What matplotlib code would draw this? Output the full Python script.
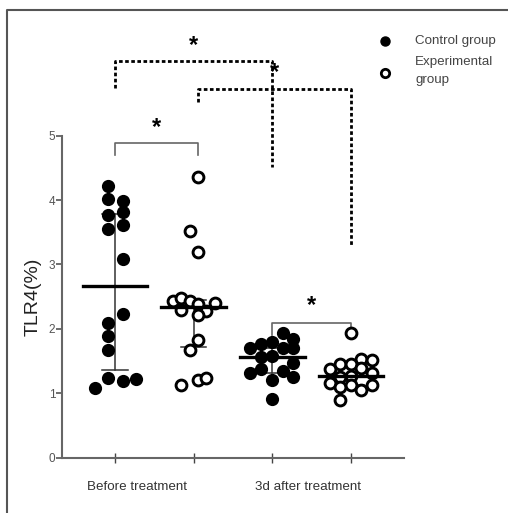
import matplotlib
matplotlib.use("Agg")
import matplotlib.pyplot as plt
from matplotlib.lines import Line2D

plt.rcParams['font.family'] = ['Liberation Sans', 'DejaVu Sans']

# values (TLR4 %), with x offset inside each group
ctrl_before = [4.22, 4.01, 3.99, 3.77, 3.81, 3.55, 3.62, 3.08, 2.23, 2.09, 1.89, 1.68, 1.24, 1.19, 1.22, 1.09]
ctrl_before_dx = [-0.09, -0.09, 0.10, -0.09, 0.10, -0.09, 0.10, 0.10, 0.10, -0.09, -0.09, -0.09, -0.09, 0.10, 0.27, -0.26]

exp_before = [4.36, 3.52, 3.20, 2.43, 2.48, 2.43, 2.38, 2.40, 2.29, 2.28, 2.21, 1.82, 1.68, 1.13, 1.21, 1.23]
exp_before_dx = [0.05, -0.05, 0.05, -0.27, -0.16, -0.05, 0.05, 0.27, -0.16, 0.16, 0.05, 0.05, -0.05, -0.16, 0.05, 0.16]

ctrl_after = [1.93, 1.85, 1.70, 1.77, 1.79, 1.70, 1.70, 1.57, 1.58, 1.47, 1.32, 1.37, 1.34, 1.25, 1.21, 0.91]
ctrl_after_dx = [0.13, 0.26, -0.28, -0.15, 0.0, 0.13, 0.26, -0.15, 0.0, 0.26, -0.28, -0.15, 0.13, 0.26, 0.0, 0.0]

exp_after = [1.93, 1.54, 1.52, 1.37, 1.45, 1.45, 1.39, 1.31, 1.25, 1.27, 1.16, 1.10, 1.13, 1.05, 1.13, 0.90]
exp_after_dx = [0.0, 0.13, 0.26, -0.27, -0.14, 0.0, 0.13, 0.26, -0.14, 0.0, -0.27, -0.14, 0.0, 0.13, 0.26, -0.14]

# median and interquartile range per group
medians = [2.66, 2.34, 1.57, 1.27]
q1 = [1.36, 1.72, 1.32, 1.13]
q3 = [3.79, 2.45, 1.70, 1.45]

group_labels = ['Before treatment', '3d after treatment']
legend_labels = ['Control group', 'Experimental\ngroup']

fig = plt.figure(figsize=(5.08, 5.13), dpi=100)
ax = fig.add_axes([0.1226, 0.1078, 0.6726, 0.6277])

groups = [(ctrl_before, ctrl_before_dx, True), (exp_before, exp_before_dx, False),
          (ctrl_after, ctrl_after_dx, True), (exp_after, exp_after_dx, False)]

for i, (vals, dx, filled) in enumerate(groups):
    xpos = [i + 1 + d for d in dx]
    if filled:
        ax.plot(xpos, vals, 'o', ms=8.3, mfc='black', mec='black', mew=1.2, zorder=3)
    else:
        ax.plot(xpos, vals, 'o', ms=7.8, mfc='white', mec='black', mew=2.1, zorder=3)

for i in range(4):
    x = i + 1
    ax.plot([x - 0.41, x + 0.41], [medians[i], medians[i]], color='black', lw=2.4, zorder=4)
    ax.plot([x, x], [q1[i], q3[i]], color='#333333', lw=1.1, zorder=2)
    ax.plot([x - 0.16, x + 0.16], [q1[i], q1[i]], color='#333333', lw=1.1, zorder=2)
    ax.plot([x - 0.16, x + 0.16], [q3[i], q3[i]], color='#333333', lw=1.1, zorder=2)

ax.set_xlim(0.33, 4.67)
ax.set_ylim(0, 5)
ax.set_yticks([0, 1, 2, 3, 4, 5])
ax.set_xticks([1, 2, 3, 4])
ax.set_xticklabels([])
for s in ['top', 'right']:
    ax.spines[s].set_visible(False)
for s in ['left', 'bottom']:
    ax.spines[s].set_color('#666666')
    ax.spines[s].set_linewidth(1.5)
ax.tick_params(axis='y', colors='#555555', labelsize=8.5, length=4, width=1.2, pad=1)
ax.tick_params(axis='x', colors='#444444', direction='inout', length=7, width=1)
ax.set_ylabel('TLR4(%)', fontsize=14, color='#222222', labelpad=5)

ax.text(1.28, -0.45, group_labels[0], ha='center', va='center', fontsize=9.6, color='#333333')
ax.text(3.45, -0.45, group_labels[1], ha='center', va='center', fontsize=9.6, color='#333333')

# significance brackets
ax.plot([1.0, 1.0, 2.05, 2.05], [4.70, 4.88, 4.88, 4.70], color='#666666', lw=1.2, clip_on=False)
ax.plot([3.0, 3.0, 4.0, 4.0], [1.90, 2.09, 2.09, 1.90], color='#666666', lw=1.2, clip_on=False)
dot = (0, (1.3, 0.9))
ax.plot([1.0, 1.0, 3.0, 3.0], [5.74, 6.16, 6.16, 4.52], color='black', lw=2, ls=dot, clip_on=False)
ax.plot([2.05, 2.05, 4.0, 4.0], [5.53, 5.73, 5.73, 3.30], color='black', lw=2, ls=dot, clip_on=False)
for sx, sy in [(1.53, 5.12), (2.0, 6.40), (3.02, 5.98), (3.5, 2.37)]:
    ax.text(sx, sy, '*', ha='center', va='center', fontsize=17, fontweight='bold', clip_on=False)

# legend drawn by hand
fig.add_artist(Line2D([385 / 508], [1 - 41 / 513], marker='o', ms=6.5, mfc='black', mec='black', ls=''))
fig.add_artist(Line2D([385 / 508], [1 - 73 / 513], marker='o', ms=6, mfc='white', mec='black', mew=2, ls=''))
fig.text(415 / 508, 1 - 41 / 513, legend_labels[0], ha='left', va='center', fontsize=9.6, color='#444444')
fig.text(415 / 508, 1 - 71 / 513, legend_labels[1], ha='left', va='center', fontsize=9.6, color='#444444', linespacing=1.75)

# outer frame (left and top edges)
fig.add_artist(Line2D([7 / 508, 7 / 508, 1.0], [0.0, 1 - 10 / 513, 1 - 10 / 513], color='#555555', lw=1.5))

fig.savefig('out.png', dpi=100)
